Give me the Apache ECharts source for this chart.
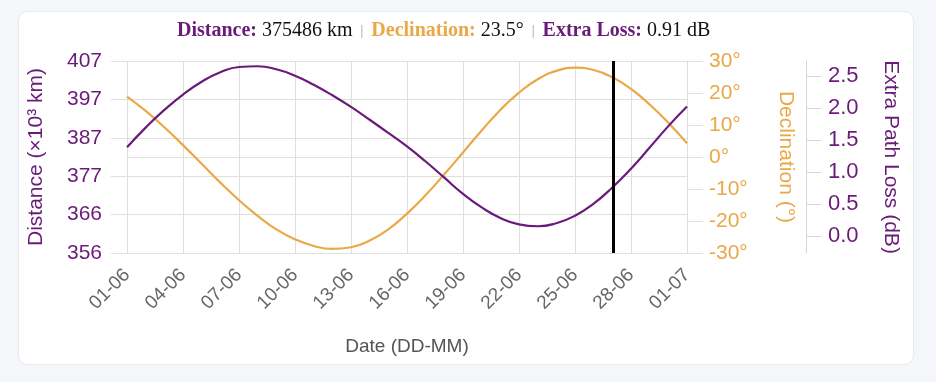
<!DOCTYPE html>
<html><head><meta charset="utf-8">
<script src="https://cdn.jsdelivr.net/npm/echarts@6/dist/echarts.min.js"></script>
<style>
html,body{margin:0;padding:0;background:#f4f6f9;width:936px;height:382px;overflow:hidden}
#card{position:absolute;left:18px;top:11px;width:894px;height:352px;background:#fff;border:1px solid #e8ebef;border-radius:10px}
#chart{position:absolute;left:0;top:0;width:936px;height:382px}
</style></head><body>
<div id="card"></div><div id="chart"></div>
<script>
const days = [0,1,2,3,4,5,6,7,8,9,10,11,12,13,14,15,16,17,18,19,20,21,22,23,24,25,26,27,28,29,30];
const xTickLabels = ['01-06','04-06','07-06','10-06','13-06','16-06','19-06','22-06','25-06','28-06','01-07'];
const distanceKkm = [384.3,389.5,394.2,398.3,401.7,404.2,405.6,405.8,405.0,403.3,400.9,398.1,395.0,391.6,388.1,384.5,380.5,376.2,371.9,368.3,365.5,363.8,363.3,364.1,366.1,369.3,373.6,378.6,384.2,389.9,395.1];
const declinationDeg = [18.9,14.4,9.3,3.7,-2.1,-8.0,-13.5,-18.4,-22.6,-25.7,-27.8,-28.7,-28.2,-26.1,-22.6,-17.7,-11.9,-5.4,1.4,8.3,14.7,20.1,24.3,26.9,27.9,27.2,24.9,21.3,16.4,10.7,4.3];
const distanceTicks = [356.2,366.4,376.6,386.8,397.0,407.2];
const lossTicks = [0,0.5,1.0,1.5,2.0,2.5];
const cursorDay = 26.04;
const readout = ['375486 km','23.5°','0.91 dB'];

const PURPLE = '#6a1b7a', ORANGE = '#eaa847', GRID = '#dfdfdf';
const FONT = '"Liberation Sans", Arial, Helvetica, sans-serif';
const SERIF = '"Liberation Serif", "Times New Roman", serif';
const chart = echarts.init(document.getElementById('chart'), null, {renderer:'canvas'});
chart.setOption({
  animation:false,
  backgroundColor:'transparent',
  textStyle:{fontFamily:FONT},
  title:{
    left:172, top:16,
    text:'{a|Distance:} {v|'+readout[0]+'} {s||} {b|Declination:} {v|'+readout[1]+'} {s||} {a|Extra Loss:} {v|'+readout[2]+'}',
    textStyle:{rich:{
      a:{fontFamily:SERIF,fontWeight:'bold',fontSize:20,color:PURPLE},
      b:{fontFamily:SERIF,fontWeight:'bold',fontSize:20,color:ORANGE},
      v:{fontFamily:SERIF,fontWeight:'normal',fontSize:20,color:'#111'},
      s:{fontFamily:SERIF,fontWeight:'normal',fontSize:14,color:'#999',padding:[0,3,0,3]}
    }}
  },
  grid:{left:127,right:249,top:61,bottom:129,containLabel:false},
  xAxis:{
    type:'value',min:0,max:30,interval:3,
    axisLine:{show:true,lineStyle:{color:GRID}},
    axisTick:{show:true,length:12,lineStyle:{color:GRID}},
    axisLabel:{rotate:45,margin:19,color:'#666',fontSize:19,fontFamily:FONT,formatter:v=>xTickLabels[Math.round(v/3)]},
    splitLine:{show:true,lineStyle:{color:GRID}},
    name:'Date (DD-MM)',nameLocation:'middle',nameGap:84,
    nameTextStyle:{color:'#555',fontSize:19,fontFamily:FONT}
  },
  yAxis:[
    {type:'value',position:'left',min:356.2,max:407.2,
     axisLine:{show:false},
     axisTick:{show:true,length:16,lineStyle:{color:GRID},customValues:distanceTicks},
     axisLabel:{customValues:distanceTicks,formatter:v=>String(Math.round(v)),color:PURPLE,fontSize:21,margin:25,fontFamily:FONT},
     splitLine:{show:true,lineStyle:{color:GRID}},
     name:'Distance (×10³ km)',nameLocation:'middle',nameGap:80,
     nameTextStyle:{color:PURPLE,fontSize:21,fontFamily:FONT}},
    {type:'value',position:'right',min:-30,max:30,interval:10,
     axisLine:{show:true,lineStyle:{color:GRID}},
     axisTick:{show:true,length:16,lineStyle:{color:GRID}},
     axisLabel:{formatter:'{value}°',color:ORANGE,fontSize:21,margin:22,fontFamily:FONT},
     splitLine:{show:false},
     name:'Declination (°)',nameLocation:'middle',nameGap:88,nameRotate:-90,
     nameTextStyle:{color:ORANGE,fontSize:21,fontFamily:FONT}},
    {type:'value',position:'right',offset:119,min:-0.26,max:2.74,
     axisLine:{show:true,lineStyle:{color:'#d6d6d6'}},
     axisTick:{show:true,length:15,lineStyle:{color:'#d6d6d6'},customValues:lossTicks},
     axisLabel:{customValues:lossTicks,formatter:v=>v.toFixed(1),color:PURPLE,fontSize:22,margin:22,fontFamily:FONT},
     splitLine:{show:false},
     name:'Extra Path Loss (dB)',nameLocation:'middle',nameGap:74,nameRotate:-90,
     nameTextStyle:{color:PURPLE,fontSize:21,fontFamily:FONT}}
  ],
  series:[
    {type:'line',name:'Distance',yAxisIndex:0,data:days.map((d,i)=>[d,distanceKkm[i]]),
     smooth:0.5,showSymbol:false,lineStyle:{color:PURPLE,width:2.2},itemStyle:{color:PURPLE},z:3,
     markLine:{silent:true,symbol:'none',label:{show:false},lineStyle:{color:'#000',width:3,type:'solid'},data:[{xAxis:cursorDay}]}},
    {type:'line',name:'Declination',yAxisIndex:1,data:days.map((d,i)=>[d,declinationDeg[i]]),
     smooth:0.5,showSymbol:false,lineStyle:{color:ORANGE,width:2.2},itemStyle:{color:ORANGE},z:2}
  ]
});
</script></body></html>
